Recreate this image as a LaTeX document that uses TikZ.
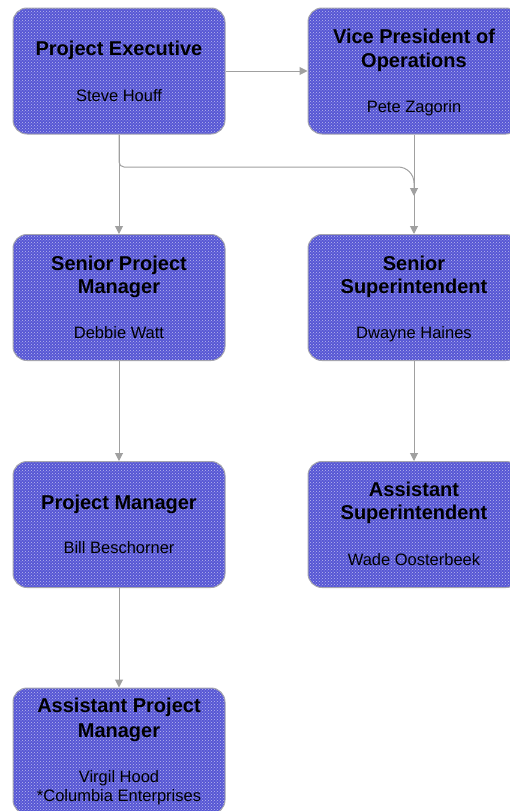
\documentclass[tikz,border=0pt]{standalone}
\usepackage{fontspec}
\setmainfont{Liberation Sans}
\usetikzlibrary{arrows.meta,patterns}
\definecolor{boxblue}{RGB}{86,86,212}
\definecolor{linegray}{RGB}{160,160,160}
\definecolor{bordergray}{RGB}{165,165,175}
\tikzset{
 orgbox/.style={draw=bordergray, line width=1pt, rounded corners=14pt,
   minimum width=212pt, minimum height=126pt, inner sep=0pt,
   preaction={fill=boxblue}, pattern=crosshatch dots, pattern color=white!60!boxblue},
 ttl/.style={anchor=base, font=\fontsize{20}{24}\selectfont\bfseries, inner sep=0pt},
 nm/.style={anchor=base, font=\fontsize{16.5}{19}\selectfont, inner sep=0pt},
 conn/.style={draw=linegray, line width=1pt, -{Triangle[width=8pt,length=8pt]}},
}
\begin{document}
\begin{tikzpicture}[x=1pt,y=-1pt]
\useasboundingbox (0,0) rectangle (510,811);
\clip (0,0) rectangle (510,811);
% boxes
\node[orgbox] (pe)  at (119,71) {};
\node[orgbox] (vp)  at (414,71) {};
\node[orgbox] (spm) at (119,297.5) {};
\node[orgbox] (ss)  at (414,297.5) {};
\node[orgbox] (pm)  at (119,524.5) {};
\node[orgbox] (as)  at (414,524.5) {};
\node[orgbox] (apm) at (119,751) {};
% texts
\node[ttl] (pe-t)  at (119,55) {Project Executive};
\node[nm]  (pe-n)  at (119,101) {Steve Houff};
\node[ttl] (vp-t1) at (414,43) {Vice President of};
\node[ttl] (vp-t2) at (414,67) {Operations};
\node[nm]  (vp-n)  at (414,112) {Pete Zagorin};
\node[ttl] (spm-t1) at (119,270) {Senior Project};
\node[ttl] (spm-t2) at (119,293) {Manager};
\node[nm]  (spm-n)  at (119,338) {Debbie Watt};
\node[ttl] (ss-t1) at (414,270) {Senior};
\node[ttl] (ss-t2) at (414,293) {Superintendent};
\node[nm]  (ss-n)  at (414,338) {Dwayne Haines};
\node[ttl] (pm-t)  at (119,509) {Project Manager};
\node[nm]  (pm-n)  at (119,553) {Bill Beschorner};
\node[ttl] (as-t1) at (414,496) {Assistant};
\node[ttl] (as-t2) at (414,519) {Superintendent};
\node[nm]  (as-n)  at (414,565) {Wade Oosterbeek};
\node[ttl] (apm-t1) at (119,712) {Assistant Project};
\node[ttl] (apm-t2) at (119,737) {Manager};
\node[nm]  (apm-n1) at (119,782) {Virgil Hood};
\node[nm]  (apm-n2) at (119,801) {*Columbia Enterprises};
% connectors
\coordinate (jn) at (414,167);
\coordinate (tip) at (414,196);
\draw[conn] (pe.east) -- (vp.west);
\draw[conn] (pe.south) -- (spm.north);
\draw[conn] (pe.south) [rounded corners=5pt] -- (pe.south |- jn) [rounded corners=16pt] -- (jn) -- (tip);
\draw[conn] (vp.south) -- (ss.north);
\draw[conn] (ss.south) -- (as.north);
\draw[conn] (spm.south) -- (pm.north);
\draw[conn] (pm.south) -- (apm.north);
\end{tikzpicture}
\end{document}
